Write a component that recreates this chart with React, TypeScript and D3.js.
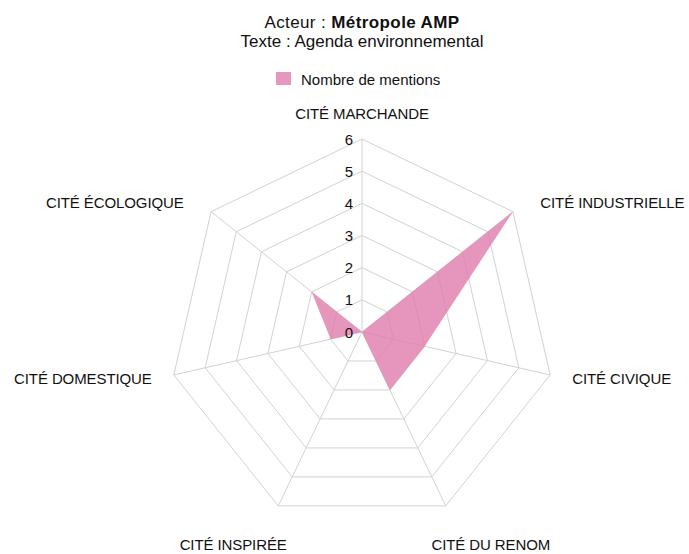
import React from "react";
import * as d3 from "d3";

const categories = [
  "CITÉ MARCHANDE",
  "CITÉ INDUSTRIELLE",
  "CITÉ CIVIQUE",
  "CITÉ DU RENOM",
  "CITÉ INSPIRÉE",
  "CITÉ DOMESTIQUE",
  "CITÉ ÉCOLOGIQUE",
];
const mentions = [0, 6, 2, 2, 0, 1, 2];
const ticks = [0, 1, 2, 3, 4, 5, 6];
const seriesName = "Nombre de mentions";

const W = 689;
const H = 554;
const cx = 362;
const cy = 332;
const R = 193;
const font = "'Liberation Sans', Arial, Helvetica, sans-serif";

const App = () => {
  const n = categories.length;
  const r = d3.scaleLinear().domain([0, 6]).range([0, R]);
  const angle = (i: number) => (i * 2 * Math.PI) / n;
  const pt = (i: number, v: number): [number, number] => [
    cx + Math.sin(angle(i)) * r(v),
    cy - Math.cos(angle(i)) * r(v),
  ];

  const ring = (v: number) =>
    categories.map((_, i) => pt(i, v).join(",")).join(" ");

  const area = d3
    .line<number>()
    .x((d, i) => pt(i, d)[0])
    .y((d, i) => pt(i, d)[1])
    .curve(d3.curveLinearClosed);

  // label placement around the outer ring
  const labelPos = (i: number) => {
    const sx = Math.sin(angle(i));
    const sy = -Math.cos(angle(i));
    let x = cx + sx * (R + 14);
    let y = cy + sy * (R + 14);
    let anchor = "middle";
    if (Math.abs(sx) < 0.05) {
      y -= 12;
    } else if (sy > 0.8) {
      x += Math.sign(sx) * 39;
      y += 26;
    } else {
      x += Math.sign(sx) * (4 + 20 * Math.abs(sy));
      anchor = sx > 0 ? "start" : "end";
    }
    return { x, y, anchor };
  };

  return (
    <svg
      width={W}
      height={H}
      style={{ position: "absolute", left: 0, top: 0, background: "#fff" }}
      fontFamily={font}
    >
      <text
        x={cx}
        y={28}
        textAnchor="middle"
        fontSize={17}
        letterSpacing={0.4}
        fill="#111"
      >
        Acteur : <tspan fontWeight="bold">Métropole AMP</tspan>
      </text>
      <text x={cx} y={47} textAnchor="middle" fontSize={17} fill="#111">
        Texte : Agenda environnemental
      </text>

      <rect x={276} y={72} width={15} height={13} fill="#e796bf" />
      <text x={301} y={79} dominantBaseline="central" fontSize={15} fill="#111">
        {seriesName}
      </text>

      <g stroke="#d2d2d2" strokeWidth={1} fill="none">
        {ticks.slice(1).map((t) => (
          <polygon key={t} points={ring(t)} />
        ))}
        {categories.map((_, i) => {
          const [x, y] = pt(i, 6);
          return <line key={i} x1={cx} y1={cy} x2={x} y2={y} />;
        })}
      </g>

      <path d={area(mentions) || ""} fill="#e07aad" fillOpacity={0.8} />

      {ticks.map((t) => (
        <text
          key={t}
          x={cx - 9}
          y={cy - r(t)}
          textAnchor="end"
          dominantBaseline="central"
          fontSize={15}
          fill="#111"
        >
          {t}
        </text>
      ))}

      {categories.map((c, i) => {
        const p = labelPos(i);
        return (
          <text
            key={c}
            x={p.x}
            y={p.y}
            textAnchor={p.anchor}
            dominantBaseline="central"
            fontSize={15}
            letterSpacing={-0.1}
            fill="#111"
          >
            {c}
          </text>
        );
      })}
    </svg>
  );
};

export default App;
